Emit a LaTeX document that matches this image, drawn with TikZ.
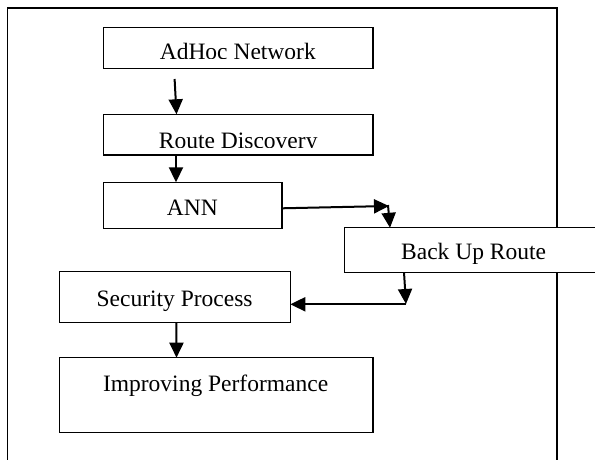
\documentclass[tikz,border=0pt]{standalone}
\usepackage{fontspec}
\setmainfont{Liberation Serif}
\usetikzlibrary{arrows.meta}
\begin{document}
\begin{tikzpicture}[x=1pt,y=-1pt,
  box/.style={draw=black,line width=1.3pt,fill=white,inner sep=0pt,outer sep=0pt,anchor=north west},
  txt/.style={anchor=base,inner sep=0pt,font=\fontsize{23.5}{28}\selectfont},
  arr/.style={line width=2pt,-{Triangle[length=15pt,width=14pt]}},
  frame/.style={line width=1.7pt}]
\useasboundingbox (0,0) rectangle (595,460);
\clip (0,0) rectangle (595,460);
\fill[white] (0,0) rectangle (595,460);
% outer frame (open at the bottom)
\coordinate (fbl) at (7.6,461);
\coordinate (ftl) at (7.6,8.3);
\coordinate (ftr) at (557,8.3);
\coordinate (fbr) at (557,461);
\draw[frame] (fbl) -- (ftl) -- (ftr) -- (fbr);
% boxes
\node[box,minimum width=269.4pt,minimum height=41pt] (adhoc) at (103.6,27.3) {};
\node[box,minimum width=269.4pt,minimum height=40.7pt] (route) at (103.6,114.3) {};
\node[box,minimum width=178.4pt,minimum height=46.4pt] (ann) at (103.6,182.3) {};
\node[box,minimum width=300pt,minimum height=44.5pt] (backup) at (344.6,227.8) {};
\node[box,minimum width=230.7pt,minimum height=51pt] (security) at (59.6,271.7) {};
\node[box,minimum width=313.4pt,minimum height=75pt] (improving) at (59.6,357.7) {};
% texts (the first two are cut off at the bottom, as in the reference)
\begin{scope}
\clip (104,28) rectangle (372,59);
\node[txt] (t1) at (237.8,60) {AdHoc Network};
\end{scope}
\begin{scope}
\clip (104,115) rectangle (372,147);
\node[txt] (t2) at (238.2,148) {Route Discovery};
\end{scope}
\node[txt] (t3) at (192.4,215) {ANN};
\node[txt] (t4) at (473.6,259.5) {Back Up Route};
\node[txt] (t5) at (174.6,306) {Security Process};
\node[txt] (t6) at (215.6,391) {Improving Performance};
% connectors
\coordinate (a1) at (174.6,79);
\draw[arr] (a1) -- ([xshift=-61.8pt]route.north);
\draw[arr] ([xshift=-62.3pt]route.south) -- ([xshift=-16.8pt]ann.north);
\coordinate (c1) at (389,206);
\draw[arr] ([yshift=-2.8pt]ann.east) -- (c1);
\coordinate (c2) at (388,205);
\draw[arr] (c2) -- ([xshift=-104.6pt]backup.north);
\coordinate (c3) at (406,304);
\draw[arr] ([xshift=-90.6pt]backup.south) -- (c3);
\coordinate (c4) at (406,304.3);
\draw[arr] (c4) -- ([yshift=-7.1pt]security.east);
\draw[arr] ([xshift=1.5pt]security.south) -- ([xshift=-39.8pt]improving.north);
\end{tikzpicture}
\end{document}
